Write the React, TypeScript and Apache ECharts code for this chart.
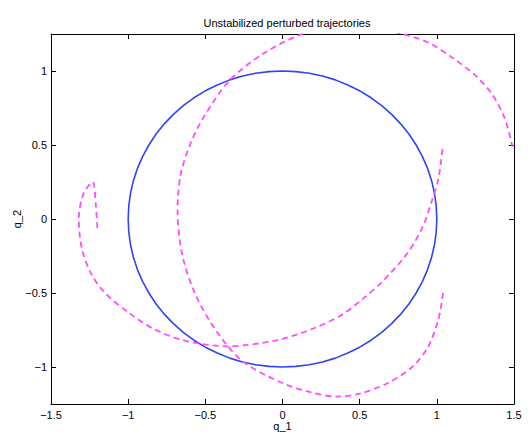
import React, { useEffect, useRef } from "react";
import * as echarts from "echarts";

const titleText = "Unstabilized perturbed trajectories";
const xName = "q_1";
const yName = "q_2";
const yTicks = [-1, -0.5, 0, 0.5, 1];

// Reference trajectory (unit circle), sampled every 5 degrees
const circleQ1 = [
  1, 0.996, 0.985, 0.966, 0.94, 0.906, 0.866, 0.819, 0.766, 0.707, 0.643, 0.574, 0.5, 0.423, 0.342, 0.259, 0.174, 0.087, 0,
  -0.087, -0.174, -0.259, -0.342, -0.423, -0.5, -0.574, -0.643, -0.707, -0.766, -0.819, -0.866, -0.906, -0.94, -0.966, -0.985, -0.996, -1,
  -0.996, -0.985, -0.966, -0.94, -0.906, -0.866, -0.819, -0.766, -0.707, -0.643, -0.574, -0.5, -0.423, -0.342, -0.259, -0.174, -0.087, 0,
  0.087, 0.174, 0.259, 0.342, 0.423, 0.5, 0.574, 0.643, 0.707, 0.766, 0.819, 0.866, 0.906, 0.94, 0.966, 0.985, 0.996, 1,
];
const circleQ2 = [
  0, 0.087, 0.174, 0.259, 0.342, 0.423, 0.5, 0.574, 0.643, 0.707, 0.766, 0.819, 0.866, 0.906, 0.94, 0.966, 0.985, 0.996, 1,
  0.996, 0.985, 0.966, 0.94, 0.906, 0.866, 0.819, 0.766, 0.707, 0.643, 0.574, 0.5, 0.423, 0.342, 0.259, 0.174, 0.087, 0,
  -0.087, -0.174, -0.259, -0.342, -0.423, -0.5, -0.574, -0.643, -0.707, -0.766, -0.819, -0.866, -0.906, -0.94, -0.966, -0.985, -0.996, -1,
  -0.996, -0.985, -0.966, -0.94, -0.906, -0.866, -0.819, -0.766, -0.707, -0.643, -0.574, -0.5, -0.423, -0.342, -0.259, -0.174, -0.087, 0,
];

// Perturbed trajectory 1
const pert1Q1 = [-1.2, -1.21, -1.23, -1.29, -1.32, -1.3, -1.24, -1.15, -1.0, -0.84, -0.64, -0.36, -0.04, 0.2, 0.38, 0.52, 0.65, 0.81, 0.91, 0.97, 1.01, 1.04];
const pert1Q2 = [-0.06, 0.1, 0.25, 0.17, 0.0, -0.2, -0.37, -0.5, -0.63, -0.74, -0.82, -0.86, -0.82, -0.74, -0.65, -0.54, -0.42, -0.23, -0.05, 0.13, 0.27, 0.5];

// Perturbed trajectory 2
const pert2Q1 = [1.04, 1.01, 0.94, 0.84, 0.68, 0.5, 0.35, 0.18, -0.02, -0.26, -0.42, -0.56, -0.65, -0.68, -0.66, -0.6, -0.51, -0.34, -0.12, 0.13, 0.45, 0.78, 0.95, 1.1, 1.25, 1.36, 1.44, 1.49];
const pert2Q2 = [-0.5, -0.68, -0.87, -1.0, -1.11, -1.18, -1.2, -1.17, -1.1, -0.96, -0.77, -0.52, -0.24, 0.06, 0.3, 0.5, 0.69, 0.94, 1.12, 1.25, 1.33, 1.25, 1.19, 1.09, 0.97, 0.84, 0.68, 0.49];

const zip = (a: number[], b: number[]) => a.map((v, i) => [v, b[i]]);
const fmt = (v: number) => String(v).replace("-", "\u2212");

export default function App() {
  const ref = useRef<HTMLDivElement>(null);
  useEffect(() => {
    if (!ref.current) return;
    const chart = echarts.init(ref.current, null, { renderer: "svg" });
    const font = "'Liberation Sans', Arial, Helvetica, sans-serif";
    const axisLine = { show: true, onZero: false, lineStyle: { color: "#000", width: 1 } };
    const tickStyle = { inside: true, length: 5, lineStyle: { color: "#000", width: 1 } };
    chart.setOption({
      animation: false,
      backgroundColor: "#fff",
      textStyle: { fontFamily: font },
      title: {
        text: titleText,
        left: 282,
        top: 12,
        textAlign: "center",
        textStyle: { fontSize: 11, fontWeight: "normal", color: "#000", fontFamily: font },
      },
      grid: { left: 51, right: 17, top: 34, bottom: 30, containLabel: false, outerBoundsMode: "none" },
      xAxis: [
        {
          type: "value",
          position: "bottom",
          min: -1.5,
          max: 1.5,
          interval: 0.5,
          name: xName,
          nameLocation: "middle",
          nameGap: 16,
          nameMoveOverlap: false,
          nameTextStyle: { fontSize: 11, color: "#000", fontFamily: font, verticalAlign: "top" },
          axisLine,
          axisTick: tickStyle,
          splitLine: { show: false },
          axisLabel: { fontSize: 11, color: "#000", margin: 5, formatter: fmt, fontFamily: font },
        },
        {
          type: "value",
          position: "top",
          min: -1.5,
          max: 1.5,
          interval: 0.5,
          axisLine,
          axisTick: tickStyle,
          splitLine: { show: false },
          axisLabel: { show: false },
        },
      ],
      yAxis: [
        {
          type: "value",
          position: "left",
          min: -1.25,
          max: 1.25,
          name: yName,
          nameLocation: "middle",
          nameGap: 29,
          nameMoveOverlap: false,
          nameRotate: 90,
          nameTextStyle: { fontSize: 11, color: "#000", fontFamily: font },
          axisLine,
          axisTick: { ...tickStyle, customValues: yTicks },
          splitLine: { show: false },
          axisLabel: { fontSize: 11, color: "#000", margin: 4, formatter: fmt, customValues: yTicks, fontFamily: font },
        },
        {
          type: "value",
          position: "right",
          min: -1.25,
          max: 1.25,
          axisLine,
          axisTick: { ...tickStyle, customValues: yTicks },
          splitLine: { show: false },
          axisLabel: { show: false, customValues: yTicks },
        },
      ],
      series: [
        {
          type: "line",
          data: zip(circleQ1, circleQ2),
          showSymbol: false,
          symbol: "none",
          clip: true,
          lineStyle: { color: "#3044f2", width: 1.6 },
        },
        {
          type: "line",
          data: zip(pert1Q1, pert1Q2),
          showSymbol: false,
          symbol: "none",
          smooth: 0.3,
          clip: true,
          lineStyle: { color: "#ff4cff", width: 1.8, type: [6, 4] },
        },
        {
          type: "line",
          data: zip(pert2Q1, pert2Q2),
          showSymbol: false,
          symbol: "none",
          smooth: 0.3,
          clip: true,
          lineStyle: { color: "#ff4cff", width: 1.8, type: [6, 4] },
        },
      ],
    });
    return () => chart.dispose();
  }, []);
  return (
    <div
      ref={ref}
      style={{ position: "fixed", left: 0, top: 0, width: 531, height: 434 }}
    />
  );
}
